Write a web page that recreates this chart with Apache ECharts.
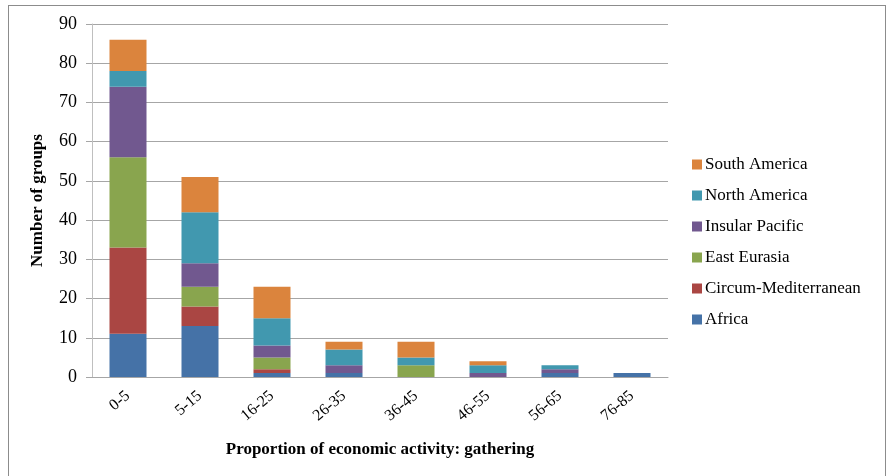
<!DOCTYPE html>
<html>
<head>
<meta charset="utf-8">
<script src="https://cdn.jsdelivr.net/npm/echarts@6/dist/echarts.min.js"></script>
<style>
  html, body { margin: 0; padding: 0; background: #fff; }
  #frame { position: absolute; left: 8px; top: 5px; width: 878px; height: 475px; border: 1px solid #8c8c8c; box-sizing: border-box; }
  #chart { position: absolute; left: 0; top: 0; width: 888px; height: 476px; }
</style>
</head>
<body>
<div id="frame"></div>
<div id="chart"></div>
<script>
// categories + values
const categories = ["0-5", "5-15", "16-25", "26-35", "36-45", "46-55", "56-65", "76-85"];
const africa = [11, 13, 1, 1, 0, 0, 1, 1];
const circumMed = [22, 5, 1, 0, 0, 0, 0, 0];
const eastEurasia = [23, 5, 3, 0, 3, 0, 0, 0];
const insularPacific = [18, 6, 3, 2, 0, 1, 1, 0];
const northAmerica = [4, 13, 7, 4, 2, 2, 1, 0];
const southAmerica = [8, 9, 8, 2, 4, 1, 0, 0];
const yTicks = [0, 10, 20, 30, 40, 50, 60, 70, 80, 90];

const serif = "'Liberation Serif', 'Times New Roman', serif";

const seriesDefs = [
  { name: "Africa", data: africa, color: "#4572A7" },
  { name: "Circum-Mediterranean", data: circumMed, color: "#AA4643" },
  { name: "East Eurasia", data: eastEurasia, color: "#89A54E" },
  { name: "Insular Pacific", data: insularPacific, color: "#71588F" },
  { name: "North America", data: northAmerica, color: "#4198AF" },
  { name: "South America", data: southAmerica, color: "#DB843D" }
];

const chart = echarts.init(document.getElementById("chart"));
chart.setOption({
  animation: false,
  grid: { left: 92, right: 220, top: 24, bottom: 99 },
  legend: {
    orient: "vertical",
    left: 687,
    top: 151,
    itemWidth: 10,
    itemHeight: 10,
    itemGap: 14,
    icon: "rect",
    data: seriesDefs.map(s => s.name).reverse(),
    textStyle: { fontFamily: serif, fontSize: 17, color: "#000", padding: [0, 0, 0, -2] }
  },
  xAxis: {
    type: "category",
    data: categories,
    name: "Proportion of economic activity: gathering",
    nameLocation: "middle",
    nameGap: 64,
    nameTextStyle: { fontFamily: serif, fontSize: 17, fontWeight: "bold", color: "#000" },
    axisLine: { lineStyle: { color: "#a6a6a6" } },
    axisTick: { show: false },
    axisLabel: { rotate: 40, fontFamily: serif, fontSize: 16, color: "#000", margin: 17 }
  },
  yAxis: {
    type: "value",
    min: yTicks[0],
    max: yTicks[yTicks.length - 1],
    interval: 10,
    name: "Number of groups",
    nameLocation: "middle",
    nameGap: 46,
    nameTextStyle: { fontFamily: serif, fontSize: 17, fontWeight: "bold", color: "#000" },
    axisLine: { show: true, lineStyle: { color: "#bfbfbf" } },
    axisTick: { show: true, length: 6, lineStyle: { color: "#a6a6a6" } },
    axisLabel: { fontFamily: serif, fontSize: 18, color: "#000", margin: 15 },
    splitLine: { lineStyle: { color: "#a6a6a6" } }
  },
  series: seriesDefs.map(s => ({
    name: s.name,
    type: "bar",
    stack: "total",
    data: s.data,
    barWidth: 37,
    itemStyle: { color: s.color }
  }))
});
</script>
</body>
</html>
